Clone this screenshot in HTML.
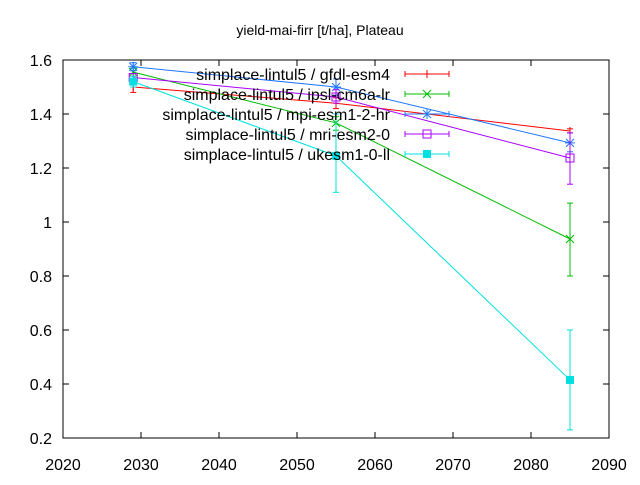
<!DOCTYPE html>
<html><head><meta charset="utf-8"><style>body{margin:0;background:#fff}svg text{font-family:"Liberation Sans",sans-serif;font-size:16px}svg text.title{font-size:14px}</style></head>
<body>
<svg id="c" width="640" height="480" xmlns="http://www.w3.org/2000/svg">
<text class="title" x="320" y="35" text-anchor="middle">yield-mai-firr [t/ha], Plateau</text>
<rect x="63" y="60" width="546" height="378" fill="none" stroke="#000"/>
<g id="axes"></g><g id="series"></g><g id="legend"></g>
</svg>
<script>
const years=[2029,2055,2085];
const names=["simplace-lintul5 / gfdl-esm4","simplace-lintul5 / ipsl-cm6a-lr","simplace-lintul5 / mpi-esm1-2-hr","simplace-lintul5 / mri-esm2-0","simplace-lintul5 / ukesm1-0-ll"];
const colors=["#ff0000","#00bb00","#1e78ff","#aa00ff","#00e0e0"];
const gfdl=[1.50,1.44,1.337];
const ipsl=[1.555,1.367,0.937];
const mpi=[1.575,1.50,1.293];
const mri=[1.535,1.463,1.237];
const ukesm=[1.52,1.245,0.415];
const lowErr=[[1.48,1.42,1.33],[1.54,1.34,0.80],[1.56,1.47,1.26],[1.52,1.44,1.14],[1.50,1.11,0.23]];
const highErr=[[1.53,1.46,1.345],[1.57,1.39,1.07],[1.59,1.53,1.33],[1.55,1.49,1.33],[1.54,1.40,0.60]];
const xTicks=[2020,2030,2040,2050,2060,2070,2080,2090];
const yTicks=[0.2,0.4,0.6,0.8,1,1.2,1.4,1.6];
const X=v=>63+(v-2020)*546/70, Y=v=>438-(v-0.2)*378/1.4;
const NS="http://www.w3.org/2000/svg";
function mk(p,t,a){const e=document.createElementNS(NS,t);for(const k in a)e.setAttribute(k,a[k]);p.appendChild(e);return e;}
const ax=document.getElementById('axes');
xTicks.forEach(t=>{mk(ax,'line',{x1:X(t),x2:X(t),y1:438,y2:432,stroke:'#000'});mk(ax,'line',{x1:X(t),x2:X(t),y1:60,y2:66,stroke:'#000'});
const tx=mk(ax,'text',{x:X(t),y:470,'text-anchor':'middle'});tx.textContent=t;

});
yTicks.forEach(t=>{mk(ax,'line',{x1:63,x2:69,y1:Y(t),y2:Y(t),stroke:'#000'});mk(ax,'line',{x1:609,x2:603,y1:Y(t),y2:Y(t),stroke:'#000'});
const tx=mk(ax,'text',{x:52,y:Y(t)+6,'text-anchor':'end'});tx.textContent=t;

});
const data=[gfdl,ipsl,mpi,mri,ukesm];
const sg=document.getElementById('series'), lg=document.getElementById('legend');
function marker(g,i,x,y,c){
 if(i==0){mk(g,'line',{x1:x,x2:x,y1:y-4,y2:y+4,stroke:c});}
 else if(i==1){mk(g,'path',{d:`M${x-4},${y-4}L${x+4},${y+4}M${x-4},${y+4}L${x+4},${y-4}`,stroke:c,fill:'none'});}
 else if(i==2){mk(g,'path',{d:`M${x-4},${y-4}L${x+4},${y+4}M${x-4},${y+4}L${x+4},${y-4}M${x},${y-5}V${y+5}M${x-5},${y}H${x+5}`,stroke:c,fill:'none'});}
 else if(i==3){mk(g,'rect',{x:x-4,y:y-4,width:8,height:8,stroke:c,fill:'none'});}
 else {mk(g,'rect',{x:x-4,y:y-4,width:8,height:8,fill:c});}
}
data.forEach((d,i)=>{
 const c=colors[i];const g=mk(sg,'g',{});
 
 
 mk(g,'polyline',{points:d.map((v,j)=>X(years[j])+','+Y(v)).join(' '),fill:'none',stroke:c,'stroke-width':1});
 d.forEach((v,j)=>{const x=X(years[j]);
  mk(g,'line',{x1:x,x2:x,y1:Y(lowErr[i][j]),y2:Y(highErr[i][j]),stroke:c});
  mk(g,'line',{x1:x-3,x2:x+3,y1:Y(lowErr[i][j]),y2:Y(lowErr[i][j]),stroke:c});
  mk(g,'line',{x1:x-3,x2:x+3,y1:Y(highErr[i][j]),y2:Y(highErr[i][j]),stroke:c});
  marker(g,i,x,Y(v),c);});
 const ly=74+i*20;const le=mk(lg,'g',{});
 
 
 const t=mk(le,'text',{x:390,y:ly+6,'text-anchor':'end'});t.textContent=names[i];
 mk(le,'line',{x1:405,x2:449,y1:ly,y2:ly,stroke:c});
 mk(le,'line',{x1:405,x2:405,y1:ly-3,y2:ly+3,stroke:c});
 mk(le,'line',{x1:449,x2:449,y1:ly-3,y2:ly+3,stroke:c});
 marker(le,i,427,ly,c);
});
</script>
</body></html>
